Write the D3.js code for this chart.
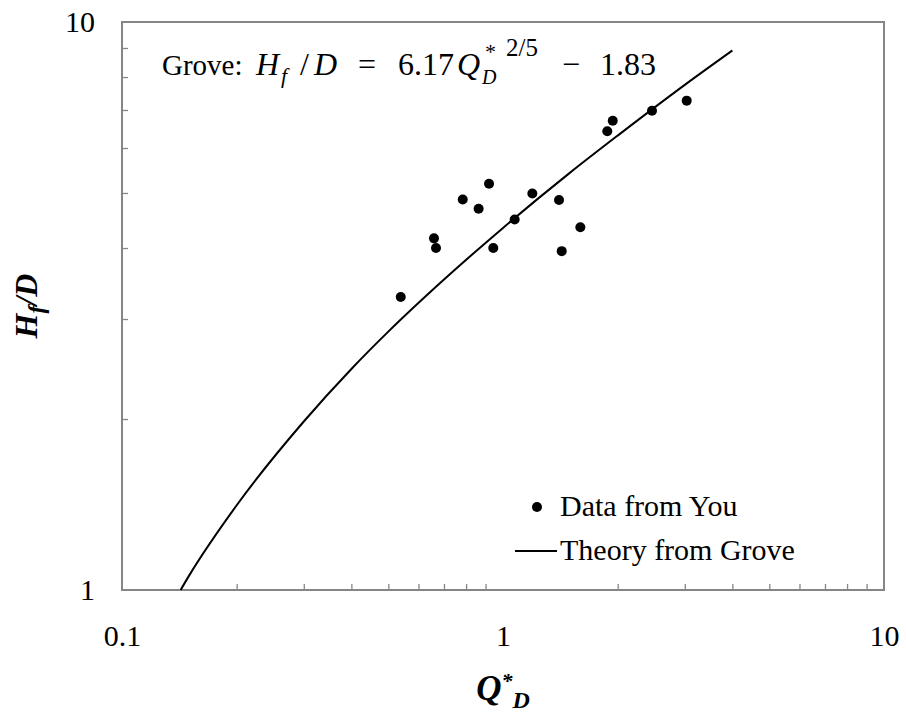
<!DOCTYPE html>
<html>
<head>
<meta charset="utf-8">
<script src="https://cdn.jsdelivr.net/npm/d3@7"></script>
<style>
  body { margin: 0; background: #fff; }
  svg { display: block; }
</style>
</head>
<body>
<svg id="chart" width="906" height="715"></svg>
<script>
// measured data (You)
var qData = [0.539, 0.659, 0.667, 0.784, 0.863, 0.919, 0.943, 1.073, 1.194, 1.403, 1.426, 1.596, 1.878, 1.941, 2.461, 3.035];
var hData = [3.28, 4.16, 4.00, 4.87, 4.69, 5.19, 4.00, 4.49, 4.99, 4.86, 3.95, 4.35, 6.42, 6.70, 6.98, 7.27];

// theory curve (Grove)
var qTheory = [0.1425, 0.15, 0.2, 0.3, 0.4, 0.5, 0.7, 1, 1.5, 2, 3, 4];
var hTheory = [1.00, 1.06, 1.41, 1.98, 2.45, 2.85, 3.52, 4.34, 5.43, 6.31, 7.75, 8.91];

var xLabels = [0.1, 1, 10];
var yLabels = [1, 10];
var minorX = [0.2, 0.3, 0.4, 0.5, 0.6, 0.7, 0.8, 0.9, 2, 3, 4, 5, 6, 7, 8, 9];
var minorY = [2, 3, 4, 5, 6, 7, 8, 9];

var serif = '"Liberation Serif", "Times New Roman", serif';
var svg = d3.select('#chart');
var margin = { top: 22, right: 22, bottom: 125, left: 122 };
var width = 906 - margin.left - margin.right;
var height = 715 - margin.top - margin.bottom;
var axisColor = '#868686';

var g = svg.append('g').attr('transform', 'translate(' + margin.left + ',' + margin.top + ')');

var x = d3.scaleLog().domain([0.1, 10]).range([0, width]);
var y = d3.scaleLog().domain([1, 10]).range([height, 0]);

// minor ticks, pointing inside
var xMinor = g.append('g').attr('transform', 'translate(0,' + height + ')')
    .call(d3.axisBottom(x).tickValues(minorX).tickSize(-6).tickFormat(''));
var yMinor = g.append('g')
    .call(d3.axisLeft(y).tickValues(minorY).tickSize(-6).tickFormat(''));
[xMinor, yMinor].forEach(function (a) {
    a.select('.domain').remove();
    a.selectAll('line').attr('stroke', axisColor).attr('stroke-width', 1.3);
});

// tick labels
var xLab = g.append('g').attr('transform', 'translate(0,' + height + ')')
    .call(d3.axisBottom(x).tickValues(xLabels).tickSize(0).tickPadding(35).tickFormat(function (d) { return String(d); }));
var yLab = g.append('g')
    .call(d3.axisLeft(y).tickValues(yLabels).tickSize(0).tickPadding(27).tickFormat(function (d) { return String(d); }));
[xLab, yLab].forEach(function (a) {
    a.select('.domain').remove();
    a.attr('font-family', serif).attr('font-size', 30);
    a.selectAll('text').attr('font-family', serif).attr('font-size', 30).attr('fill', '#000');
});

// plot frame
g.append('rect').attr('width', width).attr('height', height)
    .attr('fill', 'none').attr('stroke', axisColor).attr('stroke-width', 2);

// theory line
var line = d3.line()
    .x(function (d) { return x(d[0]); })
    .y(function (d) { return y(d[1]); })
    .curve(d3.curveMonotoneX);
g.append('path').datum(d3.zip(qTheory, hTheory))
    .attr('d', line).attr('fill', 'none').attr('stroke', '#000').attr('stroke-width', 2);

// data points
g.selectAll('circle.pt').data(d3.zip(qData, hData)).enter().append('circle')
    .attr('class', 'pt')
    .attr('cx', function (d) { return x(d[0]); })
    .attr('cy', function (d) { return y(d[1]); })
    .attr('r', 5).attr('fill', '#000');

// equation, pieces placed one by one
var eqBase = 75;
var eqParts = [
    { t: 'Grove:', x: 162, dy: 0, size: 29, it: false },
    { t: 'H', x: 256, dy: 0, size: 32, it: true },
    { t: 'f', x: 281, dy: 8, size: 22, it: true },
    { t: '/', x: 300, dy: 0, size: 32, it: false },
    { t: 'D', x: 314, dy: 0, size: 32, it: true },
    { t: '=', x: 358, dy: 0, size: 32, it: false },
    { t: '6.17', x: 398, dy: 0, size: 32, it: false },
    { t: 'Q', x: 457, dy: 0, size: 32, it: true },
    { t: 'D', x: 482, dy: 9, size: 20, it: true },
    { t: '*', x: 485, dy: -16, size: 22, it: false },
    { t: '2/5', x: 506, dy: -19, size: 25, it: false },
    { t: '\u2212', x: 562, dy: 0, size: 32, it: false },
    { t: '1.83', x: 600, dy: 0, size: 32, it: false }
];
svg.append('g').attr('font-family', serif).attr('fill', '#000')
    .selectAll('text').data(eqParts).enter().append('text')
    .attr('x', function (d) { return d.x; })
    .attr('y', function (d) { return eqBase + d.dy; })
    .attr('font-size', function (d) { return d.size; })
    .attr('font-style', function (d) { return d.it ? 'italic' : 'normal'; })
    .text(function (d) { return d.t; });

// axis titles
svg.append('text').attr('text-anchor', 'middle')
    .attr('transform', 'translate(37,306) rotate(-90)')
    .attr('font-family', serif).attr('font-size', 32).attr('font-weight', 'bold').attr('font-style', 'italic')
    .call(function (t) {
        t.append('tspan').text('H');
        t.append('tspan').attr('dy', 7).attr('font-size', 24).text('f');
        t.append('tspan').attr('dy', -7).text('/D');
    });

svg.append('text').attr('text-anchor', 'middle').attr('x', 503).attr('y', 700)
    .attr('font-family', serif).attr('font-size', 35).attr('font-weight', 'bold').attr('font-style', 'italic')
    .call(function (t) {
        t.append('tspan').text('Q');
        t.append('tspan').attr('dy', -12).attr('font-size', 22).text('*');
        t.append('tspan').attr('dy', 20).attr('font-size', 24).text('D');
    });

// legend
var legend = svg.append('g').attr('font-family', serif).attr('font-size', 30).attr('fill', '#000');
legend.append('circle').attr('cx', 537).attr('cy', 507).attr('r', 5).attr('fill', '#000');
legend.append('text').attr('x', 560).attr('y', 516).text('Data from You');
legend.append('line').attr('x1', 515).attr('x2', 557).attr('y1', 551).attr('y2', 551)
    .attr('stroke', '#000').attr('stroke-width', 2);
legend.append('text').attr('x', 560).attr('y', 560).text('Theory from Grove');
</script>
</body>
</html>
